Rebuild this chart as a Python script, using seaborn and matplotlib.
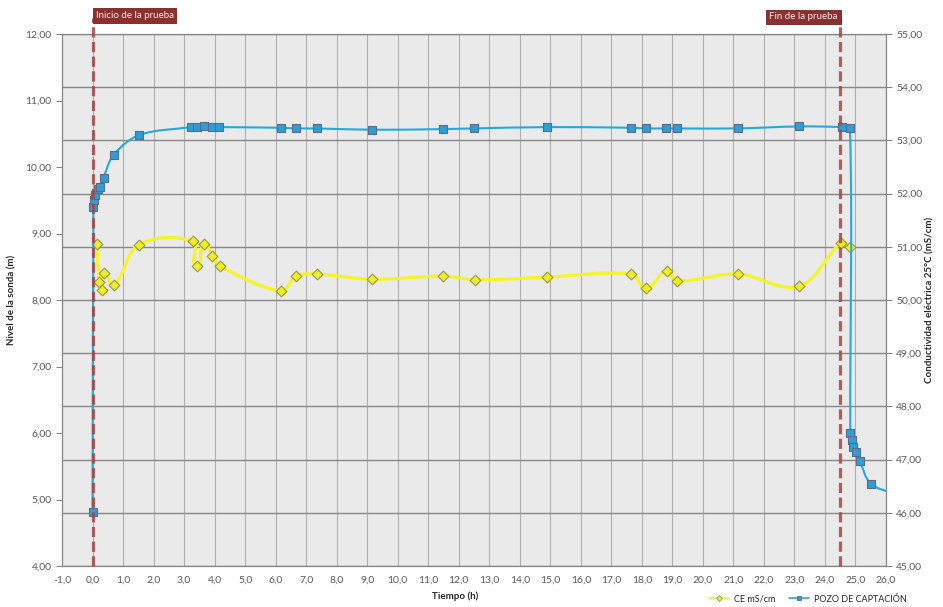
import numpy as np
import matplotlib
matplotlib.use('Agg')
import matplotlib.pyplot as plt
import seaborn as sns
from matplotlib.path import Path
from matplotlib.patches import PathPatch
from matplotlib.lines import Line2D
from matplotlib.ticker import FuncFormatter, MultipleLocator
from matplotlib.transforms import blended_transform_factory

# POZO DE CAPTACIÓN - nivel de la sonda (m), eje izquierdo
pozo_t = [0.00, 0.03, 0.05, 0.08, 0.17, 0.25, 0.36, 0.69, 1.53, 3.24, 3.41, 3.64,
          3.91, 4.16, 6.17, 6.66, 7.34, 9.15, 11.47, 12.49, 14.88, 17.63, 18.13,
          18.78, 19.14, 21.14, 23.14, 24.55, 24.82, 24.83, 24.87, 24.92, 25.03,
          25.14, 25.50, 26.30]
pozo_nivel = [4.81, 9.40, 9.51, 9.58, 9.67, 9.70, 9.84, 10.18, 10.48, 10.60, 10.60, 10.62,
              10.60, 10.60, 10.59, 10.58, 10.58, 10.56, 10.57, 10.58, 10.60, 10.59, 10.58,
              10.58, 10.58, 10.58, 10.61, 10.60, 10.58, 6.00, 5.89, 5.79, 5.71,
              5.58, 5.24, 5.08]

# CE mS/cm - eje derecho
ce_t = [0.14, 0.22, 0.30, 0.37, 0.69, 1.52, 3.28, 3.41, 3.65, 3.93, 4.17, 6.17,
        6.67, 7.34, 9.17, 11.50, 12.53, 14.89, 17.66, 18.14, 18.81, 19.15, 21.15,
        23.15, 24.53, 24.82]
ce_val = [51.05, 50.33, 50.19, 50.51, 50.28, 51.04, 51.10, 50.64, 51.05, 50.83, 50.64, 50.17,
          50.45, 50.49, 50.39, 50.45, 50.38, 50.43, 50.49, 50.22, 50.55, 50.36, 50.49,
          50.26, 51.08, 51.00]

inicio_t = 0.0
fin_t = 24.5

sns.set_style('white')
plt.rcParams['font.family'] = ['Lato', 'DejaVu Sans']

W, H = 943, 607
L, R, T, B = 62, 886, 34, 566
fig = plt.figure(figsize=(W / 100, H / 100), dpi=100)
ax_r = fig.add_axes([L / W, 1 - B / H, (R - L) / W, (B - T) / H])
ax_l = ax_r.twinx()

ax_r.yaxis.tick_right()
ax_l.yaxis.tick_left()

ax_r.set_facecolor('#EAEAEA')
ax_r.set_axisbelow(True)
ax_r.grid(axis='x', color='#AEAEAE', lw=0.8)
ax_r.grid(axis='y', color='#888888', lw=1.0)
ax_l.grid(False)

ax_r.set_xlim(-1, 26)
ax_r.set_ylim(45, 55)
ax_l.set_ylim(4, 12)

sx = (R - L) / 27
sy_l = (B - T) / 8
sy_r = (B - T) / 10


def smooth_path(xs, ys, sx, sy):
    p = np.column_stack([np.asarray(xs) * sx, np.asarray(ys) * sy])
    n = len(p)
    verts = [p[0]]
    codes = [Path.MOVETO]
    for i in range(n - 1):
        p0 = p[max(i - 1, 0)]
        p1, p2 = p[i], p[i + 1]
        p3 = p[min(i + 2, n - 1)]
        seg = np.hypot(*(p2 - p1))
        t1, t2 = p2 - p0, p3 - p1
        n1, n2 = np.hypot(*t1), np.hypot(*t2)
        c1 = p1 + (t1 / n1 * seg / 3 if n1 > 0 else 0)
        c2 = p2 - (t2 / n2 * seg / 3 if n2 > 0 else 0)
        verts += [c1, c2, p2]
        codes += [Path.CURVE4] * 3
    return Path(np.array(verts) / [sx, sy], codes)


yellow = '#F5F526'
blue = '#22A9E0'

ax_r.add_patch(PathPatch(smooth_path(ce_t, ce_val, sx, sy_r), fc='none', ec=yellow,
                         lw=2.3, zorder=3, capstyle='round', joinstyle='round'))
sns.scatterplot(x=ce_t, y=ce_val, ax=ax_r, marker='D', s=30, color='#EDED2A',
                edgecolor='#9A9A44', linewidth=0.8, zorder=4)

ax_l.add_patch(PathPatch(smooth_path(pozo_t, pozo_nivel, sx, sy_l), fc='none', ec=blue,
                         lw=1.5, zorder=3, capstyle='round', joinstyle='round'))
sns.scatterplot(x=pozo_t, y=pozo_nivel, ax=ax_l, marker='s', s=38, color='#2E9ED6',
                edgecolor='#5B6D86', linewidth=0.8, zorder=4)
ax_r.set_xlim(-1, 26)
ax_r.set_ylim(45, 55)
ax_l.set_ylim(4, 12)

# lineas de inicio y fin de la prueba
for t in (inicio_t, fin_t):
    ax_l.axvline(t, ymin=0, ymax=1.03, color='#A64444', lw=2.3, dashes=(3.2, 1.4),
                 alpha=0.85, zorder=6, clip_on=False)

trans = blended_transform_factory(ax_l.transData, ax_l.transAxes)
box = dict(boxstyle='square,pad=0.3', fc='#8C2F2F', ec='#6E2222', lw=0.6)
ax_l.text(inicio_t + 0.1, 1.035, 'Inicio de la prueba', transform=trans, ha='left',
          va='center', color='#F6EAEA', fontsize=7, bbox=box, zorder=7, clip_on=False)
ax_l.text(fin_t - 0.08, 1.032, 'Fin de la prueba', transform=trans, ha='right',
          va='center', color='#F6EAEA', fontsize=7, bbox=box, zorder=7, clip_on=False)

ax_r.xaxis.set_major_locator(MultipleLocator(1))
ax_r.yaxis.set_major_locator(MultipleLocator(1))
ax_l.yaxis.set_major_locator(MultipleLocator(1))
ax_r.xaxis.set_major_formatter(FuncFormatter(lambda v, _: f'{v:.1f}'.replace('.', ',')))
ax_r.yaxis.set_major_formatter(FuncFormatter(lambda v, _: f'{v:.2f}'.replace('.', ',')))
ax_l.yaxis.set_major_formatter(FuncFormatter(lambda v, _: f'{v:.2f}'.replace('.', ',')))

for a in (ax_r, ax_l):
    a.tick_params(axis='both', labelsize=7.5, labelcolor='#595959', color='#868686',
                  length=4, width=0.8, direction='out')
    for s in a.spines.values():
        s.set_color('#868686')
        s.set_linewidth(0.8)
ax_r.tick_params(axis='x', pad=3)
ax_r.set_xlabel('')
ax_r.set_ylabel('')
ax_l.set_ylabel('')

fig.text(12 / W, 1 - 300 / H, 'Nivel de la sonda (m)', rotation=90, ha='center',
         va='center', fontsize=7, fontweight='bold')
fig.text(930 / W, 1 - 300 / H, 'Conductividad eléctrica 25°C (mS/cm)', rotation=90,
         ha='center', va='center', fontsize=7, fontweight='bold')
fig.text(455 / W, 1 - 596 / H, 'Tiempo (h)', ha='center', va='center', fontsize=7,
         fontweight='bold')

handles = [
    Line2D([0], [0], color=yellow, lw=1.2, marker='D', markersize=3, mfc='#EDED2A',
           mec='#9A9A44', mew=0.6),
    Line2D([0], [0], color=blue, lw=1.2, marker='s', markersize=3.5, mfc='#2E9ED6',
           mec='#5B6D86', mew=0.6),
]
fig.legend(handles, ['CE mS/cm', 'POZO DE CAPTACIÓN'], loc='center',
           bbox_to_anchor=(808 / W, 1 - 599 / H), ncol=2, frameon=False, fontsize=6.5,
           handlelength=2.2, columnspacing=1.6, handletextpad=0.5)

fig.savefig('out.png', dpi=100)
